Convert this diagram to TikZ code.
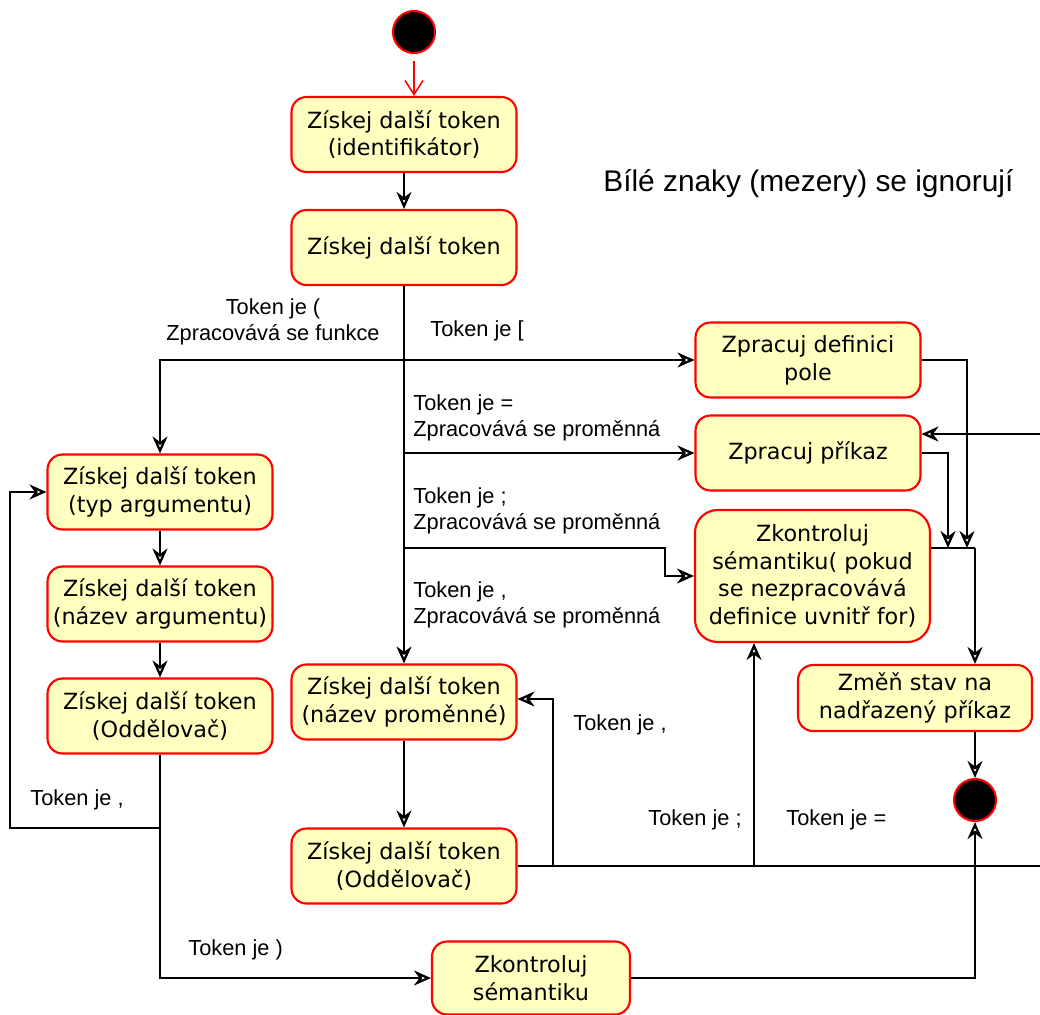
\documentclass[tikz,border=0pt]{standalone}
\usepackage{fontspec}
\setmainfont{Liberation Sans}
\newfontfamily\boxfont{DejaVu Sans}
\usepackage{tikz}
\usetikzlibrary{arrows.meta, calc}
\definecolor{cFill}{RGB}{255,255,192}
\definecolor{cBorder}{RGB}{255,0,0}
\tikzset{
	actbox/.style={rectangle, rounded corners=0.3cm, draw=cBorder, line width=1.2pt, fill=cFill, align=center, minimum width=4.5cm, minimum height=1.5cm, inner sep=2pt, font=\boxfont\fontsize{12.7}{15.8}\selectfont},
	enddot/.style={circle, draw=cBorder, line width=1.2pt, fill=black, minimum size=0.84cm, inner sep=0pt},
	flowarrow/.style={-{Stealth[open, length=3.4mm, width=3mm]}, line width=1.3pt},
	flowline/.style={line width=1.3pt},
	lbl/.style={font=\fontsize{12.4}{15.2}\selectfont, align=left, inner sep=0pt},
}

\begin{document}
\begin{tikzpicture}[x=0.02cm, y=-0.02cm]
	\clip (0,0) rectangle (1040,1014);
	% start and main line
	\node[enddot] (start) at (414,32) {};
	\node[actbox] (ident) at (404,134.5) {Získej další token\\(identifikátor)};
	\node[actbox] (next) at (404,247.5) {Získej další token};
	\node[font=\fontsize{17}{20}\selectfont, anchor=west, inner sep=0pt] (note) at (603,184) {Bílé znaky (mezery) se ignorují};
	% right column
	\node[actbox] (pole) at (808,360) {Zpracuj definici\\pole};
	\node[actbox] (prikaz) at (808,453) {Zpracuj příkaz};
	\node[actbox, minimum width=4.7cm, minimum height=2.64cm, rounded corners=0.45cm] (semcheck) at (812.5,576) {Zkontroluj\\sémantiku( pokud\\se nezpracovává\\definice uvnitř for)};
	\node[actbox, minimum width=4.68cm, minimum height=1.32cm] (parent) at (915,698) {Změň stav na\\nadřazený příkaz};
	\node[enddot] (stop) at (975,800) {};
	% left column - function arguments
	\node[actbox] (argtype) at (160,492) {Získej další token\\(typ argumentu)};
	\node[actbox] (argname) at (160,604) {Získej další token\\(název argumentu)};
	\node[actbox] (argsep) at (160,716) {Získej další token\\(Oddělovač)};
	% middle column - variables
	\node[actbox] (varname) at (404,702) {Získej další token\\(název proměnné)};
	\node[actbox] (varsep) at (404,866) {Získej další token\\(Oddělovač)};
	\node[actbox, minimum width=3.96cm, minimum height=1.46cm] (semfunc) at (531,978) {Zkontroluj\\sémantiku};

	% junctions
	\coordinate (jfunc) at (404,360);
	\coordinate (jsemi) at (404,548);
	\coordinate (merge) at (975,548);
	\coordinate (jarg) at (160,828);
	\coordinate (jcomma) at (553,866);
	\coordinate (jsc) at (754,866);

	\draw[cBorder, line width=0.9pt, -{Straight Barb[length=2.8mm, width=3.6mm]}] ([yshift=-0.14cm]start.south -| start) -- (start |- ident.north);
	\draw[flowarrow] (ident) -- (next);
	\draw[flowarrow] (next) -- (varname);
	\draw[flowarrow] (jfunc) -- (pole.west);
	\draw[flowarrow] (jfunc) -| (argtype.north);
	\draw[flowarrow] (next.south |- prikaz.west) -- (prikaz.west);
	\draw[flowarrow] (jsemi) -- ++(261,0) |- (semcheck.west);
	\draw[flowarrow] (pole.east) -| ([xshift=-0.16cm]merge);
	\draw[flowarrow] (prikaz.east) -| ([xshift=-0.54cm]merge);
	\draw[flowline] (semcheck.east |- merge) -- (merge);
	\draw[flowarrow] (merge) -- (merge |- parent.north);
	\draw[flowarrow] (merge |- parent.south) -- (stop);

	\draw[flowarrow] (argtype) -- (argname);
	\draw[flowarrow] (argname) -- (argsep);
	\draw[flowline] (argsep.south) -- (jarg);
	\draw[flowarrow] (jarg) -- (10,828) |- (argtype.west);
	\draw[flowarrow] (jarg) |- (semfunc.west);
	\draw[flowarrow] (semfunc.east) -| (stop.south);

	\draw[flowarrow] (varname) -- (varsep);
	\draw[flowarrow] (varsep.east) -- (1052,866) |- ([yshift=0.38cm]prikaz.east);
	\draw[flowarrow] (jcomma) |- ([yshift=0.06cm]varname.east);
	\draw[flowarrow] (jsc) -- (jsc |- semcheck.south);

	% labels
	\node[lbl, align=center] (lfunc) at (273,322) {Token je (\\Zpracovává se funkce};
	\node[lbl, anchor=west] (larr) at (430,331) {Token je [};
	\node[lbl, anchor=west] (lassign) at (413,418) {Token je =\\Zpracovává se proměnná};
	\node[lbl, anchor=west] (lsemi) at (413,511) {Token je ;\\Zpracovává se proměnná};
	\node[lbl, anchor=west] (lcomma) at (413,605) {Token je ,\\Zpracovává se proměnná};
	\node[lbl, anchor=west] (largc) at (30,800) {Token je ,};
	\node[lbl, anchor=west] (lclose) at (188,950) {Token je )};
	\node[lbl, anchor=west] (lvarc) at (573,725) {Token je ,};
	\node[lbl, anchor=west] (lvars) at (648,820) {Token je ;};
	\node[lbl, anchor=west] (lvare) at (786,820) {Token je =};
\end{tikzpicture}
\end{document}
